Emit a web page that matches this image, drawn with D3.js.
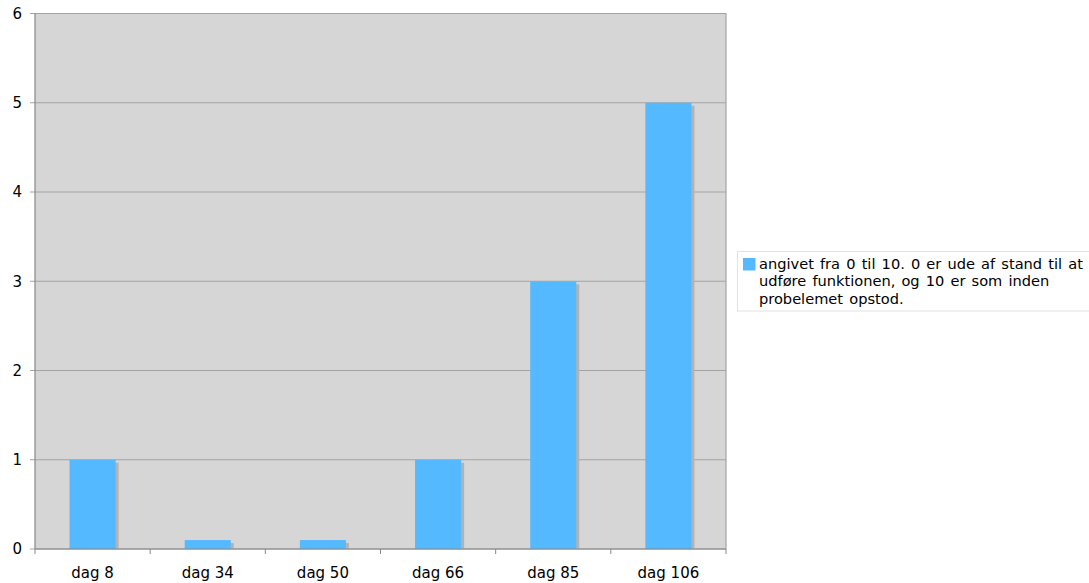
<!DOCTYPE html>
<html><head><meta charset="utf-8">
<script src="https://cdn.jsdelivr.net/npm/d3@7"></script>
<style>body{margin:0;background:#fff;} svg{display:block;font-family:"DejaVu Sans",Verdana,sans-serif;}</style>
</head><body>
<svg id="c" width="1089" height="583"></svg>
<script>
const categories = ["dag 8","dag 34","dag 50","dag 66","dag 85","dag 106"];
const values = [1, 0.1, 0.1, 1, 3, 5];
const yTicks = [0,1,2,3,4,5,6];
const legendLines = ["angivet fra 0 til 10. 0 er ude af stand til at","udføre funktionen, og 10 er som inden","probelemet opstod."];

const svg = d3.select("#c");
const L=35, T=13.5, R=726, B=549;
const x = d3.scaleBand().domain(categories).range([L,R]).paddingInner(0.6).paddingOuter(0.3);
const xb = d3.scaleBand().domain(categories).range([L,R]);
const y = d3.scaleLinear().domain([0,6]).range([B,T]);

svg.append("rect").attr("x",L).attr("y",T).attr("width",R-L).attr("height",B-T).attr("fill","#d6d6d6");
// grid
svg.append("g").selectAll("line").data(yTicks).join("line")
  .attr("x1",L-5).attr("x2",R).attr("y1",d=>y(d)).attr("y2",d=>y(d))
  .attr("stroke","#a3a3a3").attr("stroke-width",1.2);
// right border
svg.append("line").attr("x1",R).attr("x2",R).attr("y1",T).attr("y2",B).attr("stroke","#a3a3a3").attr("stroke-width",1.2);
// shadows
svg.append("g").selectAll("rect").data(values).join("rect")
  .attr("x",(d,i)=>x(categories[i])+3).attr("y",d=>y(d)+3)
  .attr("width",x.bandwidth()).attr("height",d=>B-y(d)-3).attr("fill","#b3b3b3");
// bars
svg.append("g").selectAll("rect").data(values).join("rect")
  .attr("x",(d,i)=>x(categories[i])).attr("y",d=>y(d))
  .attr("width",x.bandwidth()).attr("height",d=>B-y(d)).attr("fill","#55b9ff");
// axes lines
svg.append("line").attr("x1",L).attr("x2",L).attr("y1",T).attr("y2",B).attr("stroke","#888").attr("stroke-width",1.2);
svg.append("line").attr("x1",L).attr("x2",R).attr("y1",B).attr("y2",B).attr("stroke","#888").attr("stroke-width",1.2);
// x ticks at band boundaries
const bounds = categories.map(c=>xb(c)).concat([R]);
svg.append("g").selectAll("line").data(bounds).join("line")
  .attr("x1",d=>d).attr("x2",d=>d).attr("y1",B).attr("y2",B+5).attr("stroke","#888");
// y labels
svg.append("g").selectAll("text").data(yTicks).join("text")
  .attr("x",22).attr("y",d=>y(d)).attr("dy","0.36em").attr("text-anchor","end")
  .attr("font-size",15).attr("fill","#000").text(d=>d);
// x labels
svg.append("g").selectAll("text").data(categories).join("text")
  .attr("x",d=>xb(d)+xb.bandwidth()/2).attr("y",578).attr("text-anchor","middle")
  .attr("font-size",15).attr("fill","#000").text(d=>d);
// legend
svg.append("rect").attr("x",737.5).attr("y",251.5).attr("width",360).attr("height",59.5).attr("fill","#fff").attr("stroke","#e2e2e2");
svg.append("rect").attr("x",743).attr("y",258).attr("width",12.5).attr("height",12.5).attr("fill","#55b9ff");
svg.append("g").selectAll("text").data(legendLines).join("text")
  .attr("x",759).attr("y",(d,i)=>268.7+i*17.5).attr("font-size",14.6).attr("word-spacing",1.5)
  .attr("fill","#000").text(d=>d);
</script>
</body></html>
